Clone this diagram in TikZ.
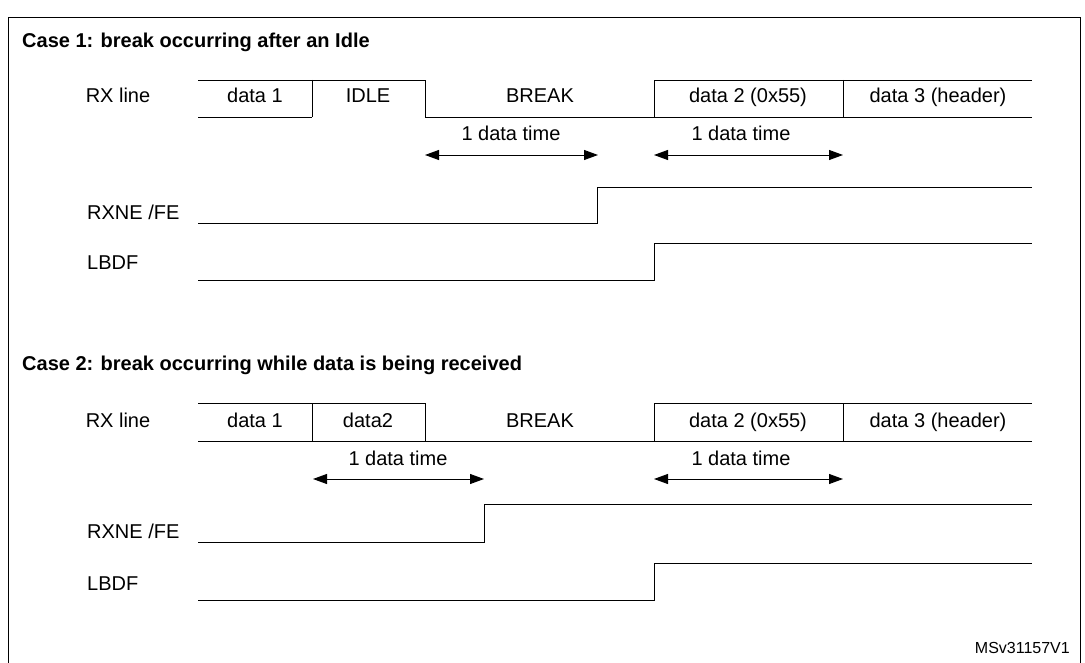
\documentclass[tikz,border=0pt]{standalone}
\usepackage{fontspec}
\setmainfont{Liberation Sans}
\usetikzlibrary{arrows.meta}
\begin{document}
\begin{tikzpicture}[x=1pt,y=-1pt,
  wave/.style={line width=0.8pt},
  lbl/.style={font=\fontsize{20}{24}\selectfont,inner sep=0pt,text height=14.5pt,text depth=4.5pt},
  ttl/.style={font=\fontsize{20}{24}\selectfont\bfseries,inner sep=0pt,anchor=west,text height=14.5pt,text depth=4.5pt},
  dim/.style={line width=0.9pt,{Triangle[length=14pt,width=10pt]}-{Triangle[length=14pt,width=10pt]}}]
\useasboundingbox (0,0) rectangle (1085,663);
\draw[line width=1pt] (8,663) -- (8,18) -- (1080,18) -- (1080,663);
% Case 1
\node[ttl] (t1) at (22,43) {Case 1: break occurring after an Idle};
\node[lbl] (rx1) at (118,98) {RX line};
\draw[wave] (198,80) -- (425,80) -- (425,117) -- (654,117) -- (654,80) -- (1032,80);
\draw[wave] (198,117) -- (312,117) (312,80) -- (312,117) (654,117) -- (1032,117) (843,80) -- (843,117);
\node[lbl] (d11) at (255,98) {data 1};
\node[lbl] (i1) at (368,98) {IDLE};
\node[lbl] (b1) at (540,98) {BREAK};
\node[lbl] (d21) at (748,98) {data 2 (0x55)};
\node[lbl] (d31) at (938,98) {data 3 (header)};
\coordinate (a1l) at (425,155); \coordinate (a1r) at (598,155);
\coordinate (a2l) at (654,155); \coordinate (a2r) at (843,155);
\draw[dim] (a1l) -- (a1r); \draw[dim] (a2l) -- (a2r);
\node[lbl] (l1) at (511,136) {1 data time};
\node[lbl] (l2) at (741,136) {1 data time};
\node[lbl,anchor=west] (rxne1) at (87,215) {RXNE /FE};
\draw[wave] (198,223) -- (597,223) -- (597,187) -- (1032,187);
\node[lbl,anchor=west] (lbdf1) at (87,265) {LBDF};
\draw[wave] (198,280) -- (654,280) -- (654,243) -- (1032,243);
% Case 2
\node[ttl] (t2) at (22,365) {Case 2: break occurring while data is being received};
\node[lbl] (rx2) at (118,422) {RX line};
\draw[wave] (198,403) -- (425,403) -- (425,441) -- (654,441) -- (654,403) -- (1032,403);
\draw[wave] (198,441) -- (425,441) (312,403) -- (312,441) (654,441) -- (1032,441) (843,403) -- (843,441);
\node[lbl] (d12) at (255,422) {data 1};
\node[lbl] (d22) at (368,422) {data2};
\node[lbl] (b2) at (540,422) {BREAK};
\node[lbl] (d23) at (748,422) {data 2 (0x55)};
\node[lbl] (d32) at (938,422) {data 3 (header)};
\coordinate (a3l) at (313,479); \coordinate (a3r) at (484,479);
\coordinate (a4l) at (654,479); \coordinate (a4r) at (843,479);
\draw[dim] (a3l) -- (a3r); \draw[dim] (a4l) -- (a4r);
\node[lbl] (l3) at (398,460) {1 data time};
\node[lbl] (l4) at (741,460) {1 data time};
\node[lbl,anchor=west] (rxne2) at (87,533) {RXNE /FE};
\draw[wave] (198,542) -- (484,542) -- (484,504) -- (1032,504);
\node[lbl,anchor=west] (lbdf2) at (87,585) {LBDF};
\draw[wave] (198,600) -- (654,600) -- (654,563) -- (1032,563);
\node[font=\fontsize{16}{19}\selectfont,inner sep=0pt,anchor=east] (ms) at (1070,648) {MSv31157V1};
\end{tikzpicture}
\end{document}
